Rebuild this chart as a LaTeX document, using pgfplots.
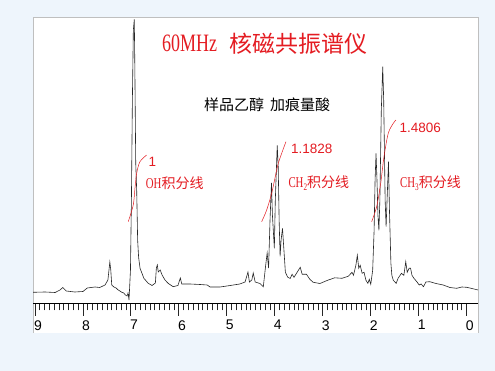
\documentclass[border=0pt]{standalone}
\usepackage{pgfplots}
\pgfplotsset{compat=1.18}
\usepackage{fontspec}
\setmainfont{Liberation Serif}
\setsansfont{Liberation Sans}
\newfontfamily\cjk{Noto Sans CJK SC}
\newfontfamily\lat[FakeStretch=0.72]{Liberation Serif}
\definecolor{bgblue}{RGB}{238,245,252}
\definecolor{myred}{RGB}{228,28,34}
\begin{document}
\begin{tikzpicture}[x=1pt,y=1pt]
\useasboundingbox (0,0) rectangle (495,371);
\fill[bgblue] (0,0) rectangle (495,371);
\fill[white] (33,38) rectangle (478,354);
\draw[black!25, line width=0.6pt] (33,38) -- (33,354) -- (478,354) -- (478,38);
\begin{axis}[
  at={(33pt,67.7pt)}, anchor=south west,
  scale only axis, width=445pt, height=286.3pt,
  xmin=-0.236, xmax=9.042, ymin=0, ymax=286.3,
  x dir=reverse,
  axis x line*=bottom, axis y line=none,
  xtick={0,1,...,9}, minor tick num=9,
  tick align=outside,
  major tick length=12.5pt, minor tick length=7pt,
  every tick/.style={black!85, line width=0.9pt},
  axis line style={black, line width=1.2pt},
  xticklabel style={font=\sffamily\fontsize{14}{14}\selectfont, xshift=3pt, yshift=-1pt},
  /pgf/number format/assume math mode=true,
  clip=true,
]
\addplot[black!85, line width=0.6pt] table {
9.04 11
8.79 11.3
8.58 10.8
8.48 13.3
8.42 15.8
8.35 12.3
8.17 11.3
8.00 11.8
7.91 15.3
7.75 16.3
7.65 15.8
7.54 18.3
7.48 23.3
7.44 41.3
7.42 33
7.40 18.3
7.36 16.5
7.31 15.3
7.27 13.5
7.23 12.3
7.19 11.0
7.15 10.3
7.12 8.5
7.08 7.3
7.06 10.3
7.04 3.3
7.01 33
6.99 103
6.97 203
6.95 273
6.93 284
6.92 243
6.90 140
6.88 113
6.86 63
6.84 46
6.81 35
6.77 30
6.73 25
6.64 20
6.56 17.8
6.49 20.3
6.47 35.3
6.45 38.3
6.43 31.3
6.39 33.3
6.35 28.3
6.29 23.3
6.22 19.8
6.12 16.6
6.02 17.8
5.97 25.3
5.94 19.3
5.77 19.3
5.56 18.8
5.41 18.3
5.35 16.3
5.14 16.3
4.93 17.8
4.73 19.3
4.62 21.3
4.56 31.3
4.53 21.3
4.48 23.3
4.45 30.3
4.41 21.3
4.31 19.8
4.24 16.6
4.19 38.3
4.16 50.3
4.13 35.3
4.10 83.3
4.07 120.3
4.05 88
4.01 55
3.99 103
3.95 157.8
3.93 138
3.91 83
3.89 47
3.87 63
3.84 75
3.81 53
3.78 31
3.73 26
3.68 24.8
3.64 29
3.60 26
3.47 36
3.43 29
3.34 29
3.27 24
3.20 21
3.06 19.8
2.90 23
2.75 25.5
2.60 25
2.47 27
2.39 31
2.36 28
2.31 38
2.28 48
2.25 35
2.22 38
2.18 30
2.14 31
2.10 23
2.06 20
2.03 24
2.00 19
1.96 33
1.93 73
1.91 123
1.89 150
1.87 123
1.85 88
1.83 73
1.81 103
1.78 193
1.75 236.6
1.73 203
1.70 103
1.68 76.6
1.66 103
1.63 141.6
1.61 93
1.58 40
1.56 28
1.53 23
1.47 20
1.43 25
1.36 30
1.31 28
1.27 41.6
1.24 31
1.20 35
1.17 35
1.14 28
1.10 25
1.04 21.6
0.99 18.3
0.95 19.3
0.90 16.6
0.85 21.3
0.77 21.6
0.64 19.8
0.49 18.3
0.35 15.8
0.21 15
0.10 16.3
0.00 16
-0.11 14.8
-0.236 13.3
};
% integration curves
\addplot[myred, line width=0.5pt, smooth] coordinates {
(7.056,81.6) (6.952,98.3) (6.916,115) (6.881,130) (6.812,141.6) (6.672,148.3)};
\addplot[myred, line width=0.5pt, smooth] coordinates {
(4.274,81.6) (4.170,93.3) (4.066,110) (3.976,130) (3.928,140) (3.857,150) (3.768,161.6)};
\addplot[myred, line width=0.5pt, smooth] coordinates {
(1.981,81.6) (1.877,96.6) (1.793,120) (1.724,146.6) (1.635,170) (1.530,180) (1.474,183.3)};
\end{axis}
% title
\node[anchor=west, myred, inner sep=0pt] at (162,327.5) {\lat\fontsize{25}{25}\selectfont 60MHz};
\node[anchor=west, myred, inner sep=0pt] at (229,327.5) {\cjk\fontsize{23}{23}\selectfont 核磁共振谱仪};
\node[anchor=west, black, inner sep=0pt] at (204,266) {\cjk\fontsize{15}{15}\selectfont 样品乙醇\hspace{6pt}加痕量酸};
% integral values
\node[anchor=west, myred, inner sep=0pt] at (148.5,208.7) {\sffamily\fontsize{13.5}{13.5}\selectfont 1};
\node[anchor=west, myred, inner sep=0pt] at (291,222) {\sffamily\fontsize{13.5}{13.5}\selectfont 1.1828};
\node[anchor=west, myred, inner sep=0pt] at (399.3,242.7) {\sffamily\fontsize{13.5}{13.5}\selectfont 1.4806};
% labels
\node[anchor=west, myred, inner sep=0pt] at (145.7,187.7) {\lat\fontsize{15}{15}\selectfont OH\cjk\fontsize{14}{14}\selectfont 积分线};
\node[anchor=west, myred, inner sep=0pt] at (288.3,187.7) {\lat\fontsize{15}{15}\selectfont CH\raisebox{-3pt}{\fontsize{10}{10}\selectfont 2}\cjk\fontsize{14}{14}\selectfont 积分线};
\node[anchor=west, myred, inner sep=0pt] at (400,187.7) {\lat\fontsize{15}{15}\selectfont CH\raisebox{-3pt}{\fontsize{10}{10}\selectfont 3}\cjk\fontsize{14}{14}\selectfont 积分线};
\end{tikzpicture}
\end{document}
